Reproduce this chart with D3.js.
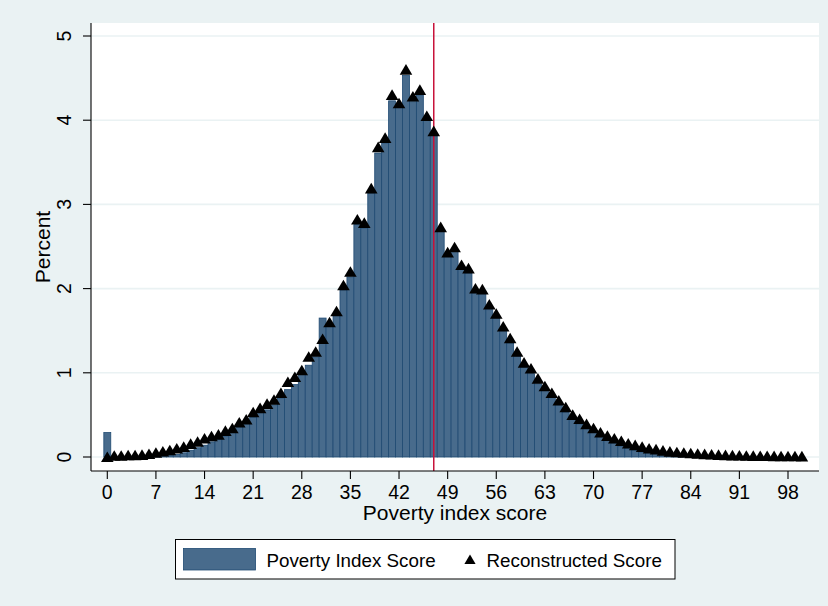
<!DOCTYPE html>
<html>
<head>
<meta charset="utf-8">
<script src="https://cdn.jsdelivr.net/npm/d3@7"></script>
<style>
  html, body { margin: 0; padding: 0; background: #eaf2f3; }
  svg { display: block; font-family: "Liberation Sans", Arial, sans-serif; }
</style>
</head>
<body>
<svg id="chart" width="828" height="606"></svg>
<script>
// Poverty index scores 0..100 (one histogram bin per integer score)
const scores = d3.range(0, 101);

// Percent of households in each score bin
const histPercent = [
  0.29, 0.00, 0.00, 0.00, 0.00, 0.00, 0.005, 0.01, 0.015, 0.02,
  0.03, 0.05, 0.08, 0.11, 0.14, 0.18, 0.21, 0.25, 0.30, 0.36,
  0.40, 0.47, 0.53, 0.56, 0.62, 0.70, 0.80, 0.86, 0.98, 1.09,
  1.19, 1.65, 1.55, 1.68, 1.98, 2.14, 2.76, 2.72, 3.13, 3.61,
  3.73, 4.23, 4.15, 4.53, 4.22, 4.30, 4.00, 3.82, 2.68, 2.38,
  2.44, 2.23, 2.18, 1.95, 1.94, 1.75, 1.65, 1.50, 1.35, 1.20,
  1.07, 0.99, 0.87, 0.79, 0.71, 0.62, 0.53, 0.45, 0.39, 0.34,
  0.29, 0.24, 0.20, 0.16, 0.13, 0.10, 0.08, 0.06, 0.05, 0.04,
  0.03, 0.02, 0.015, 0.01, 0.008, 0.005, 0.004, 0.003, 0.002, 0.002,
  0.001, 0.001, 0.001, 0.000, 0.000, 0.000, 0.000, 0.000, 0.000, 0.000,
  0.000
];

// Percent implied by the reconstructed score, per score value
const reconPercent = [
  0.000, 0.015, 0.015, 0.020, 0.020, 0.025, 0.035, 0.050, 0.065, 0.080,
  0.10, 0.12, 0.155, 0.18, 0.22, 0.245, 0.265, 0.31, 0.34, 0.41,
  0.445, 0.53, 0.58, 0.63, 0.68, 0.76, 0.89, 0.95, 1.03, 1.19,
  1.25, 1.40, 1.60, 1.73, 2.04, 2.20, 2.82, 2.78, 3.19, 3.68,
  3.79, 4.30, 4.20, 4.60, 4.28, 4.36, 4.05, 3.87, 2.73, 2.43,
  2.49, 2.28, 2.24, 2.00, 1.99, 1.81, 1.70, 1.55, 1.41, 1.25,
  1.12, 1.05, 0.93, 0.84, 0.76, 0.67, 0.59, 0.50, 0.45, 0.39,
  0.34, 0.29, 0.25, 0.22, 0.19, 0.16, 0.14, 0.12, 0.10, 0.09,
  0.075, 0.063, 0.055, 0.050, 0.044, 0.038, 0.033, 0.029, 0.025, 0.022,
  0.019, 0.017, 0.015, 0.013, 0.012, 0.011, 0.010, 0.009, 0.008, 0.008,
  0.007
];

const xTicks = [0, 7, 14, 21, 28, 35, 42, 49, 56, 63, 70, 77, 84, 91, 98];
const yTicks = [0, 1, 2, 3, 4, 5];
const cutoffScore = 47;

const seriesNames = ["Poverty Index Score", "Reconstructed Score"];
const xTitle = "Poverty index score";
const yTitle = "Percent";

// ---- layout ----
const plot = { left: 91, right: 819, top: 23, bottom: 471 };
const barFill = "#486b8c";
const barStroke = "#1f4a72";
const gridColor = "#eaf2f3";

const x = d3.scaleLinear().domain([0, 98]).range([107.3, 788]);
const y = d3.scaleLinear().domain([0, 5]).range([457, 36]);
const binW = x(1) - x(0);

const svg = d3.select("#chart");

// plot region
svg.append("rect")
  .attr("x", plot.left).attr("y", plot.top)
  .attr("width", plot.right - plot.left).attr("height", plot.bottom - plot.top)
  .attr("fill", "#ffffff");

// horizontal grid lines
svg.append("g").selectAll("line").data(yTicks).join("line")
  .attr("x1", plot.left).attr("x2", plot.right)
  .attr("y1", d => y(d)).attr("y2", d => y(d))
  .attr("stroke", gridColor).attr("stroke-width", 1.6);

// histogram bars
svg.append("g").selectAll("rect")
  .data(scores.map((s, i) => ({ s, v: histPercent[i] })).filter(d => d.v > 0))
  .join("rect")
  .attr("x", d => x(d.s - 0.5))
  .attr("width", binW)
  .attr("y", d => y(d.v))
  .attr("height", d => y(0) - y(d.v))
  .attr("fill", barFill)
  .attr("stroke", barStroke)
  .attr("stroke-width", 0.8);

// cutoff line
svg.append("line")
  .attr("x1", x(cutoffScore)).attr("x2", x(cutoffScore))
  .attr("y1", plot.top).attr("y2", plot.bottom)
  .attr("stroke", "#c8123a").attr("stroke-width", 1.5);

// triangle markers
const tri = "M0,-5.6 L6.3,5 L-6.3,5 Z";
svg.append("g").selectAll("path")
  .data(scores.map((s, i) => ({ s, v: reconPercent[i] })))
  .join("path")
  .attr("d", tri)
  .attr("transform", d => `translate(${x(d.s)},${y(d.v)})`)
  .attr("fill", "#000000");

// axes
const axisG = svg.append("g").attr("stroke", "#000").attr("stroke-width", 1.1);
axisG.append("line").attr("x1", plot.left).attr("x2", plot.left)
  .attr("y1", plot.top).attr("y2", plot.bottom);
axisG.append("line").attr("x1", plot.left).attr("x2", plot.right)
  .attr("y1", plot.bottom).attr("y2", plot.bottom);

axisG.selectAll(".yt").data(yTicks).join("line")
  .attr("x1", plot.left - 8).attr("x2", plot.left)
  .attr("y1", d => y(d)).attr("y2", d => y(d));
axisG.selectAll(".xt").data(xTicks).join("line")
  .attr("x1", d => x(d)).attr("x2", d => x(d))
  .attr("y1", plot.bottom).attr("y2", plot.bottom + 8);

// tick labels
svg.append("g").selectAll("text").data(yTicks).join("text")
  .attr("transform", d => `translate(71,${y(d)}) rotate(-90)`)
  .attr("text-anchor", "middle")
  .attr("font-size", 19.5)
  .text(d => d);

svg.append("g").selectAll("text").data(xTicks).join("text")
  .attr("x", d => x(d)).attr("y", 499)
  .attr("text-anchor", "middle")
  .attr("font-size", 19.5)
  .text(d => d);

// axis titles
svg.append("text")
  .attr("x", (plot.left + plot.right) / 2).attr("y", 520)
  .attr("text-anchor", "middle").attr("font-size", 21)
  .text(xTitle);
svg.append("text")
  .attr("transform", `translate(49.5,${(plot.top + plot.bottom) / 2}) rotate(-90)`)
  .attr("text-anchor", "middle").attr("font-size", 21)
  .text(yTitle);

// legend
const lg = svg.append("g");
lg.append("rect")
  .attr("x", 175.5).attr("y", 539.5).attr("width", 499.5).attr("height", 39.5)
  .attr("fill", "#fff").attr("stroke", "#000").attr("stroke-width", 1);
lg.append("rect")
  .attr("x", 183.5).attr("y", 548.5).attr("width", 72).attr("height", 21.5)
  .attr("fill", barFill).attr("stroke", barStroke).attr("stroke-width", 0.8);
lg.append("text").attr("x", 266.5).attr("y", 566.5)
  .attr("font-size", 18.8).text(seriesNames[0]);
lg.append("path").attr("d", "M0,-5 L5.6,4.5 L-5.6,4.5 Z")
  .attr("transform", "translate(470,559.5)").attr("fill", "#000");
lg.append("text").attr("x", 486.5).attr("y", 566.5)
  .attr("font-size", 18.8).text(seriesNames[1]);
</script>
</body>
</html>
